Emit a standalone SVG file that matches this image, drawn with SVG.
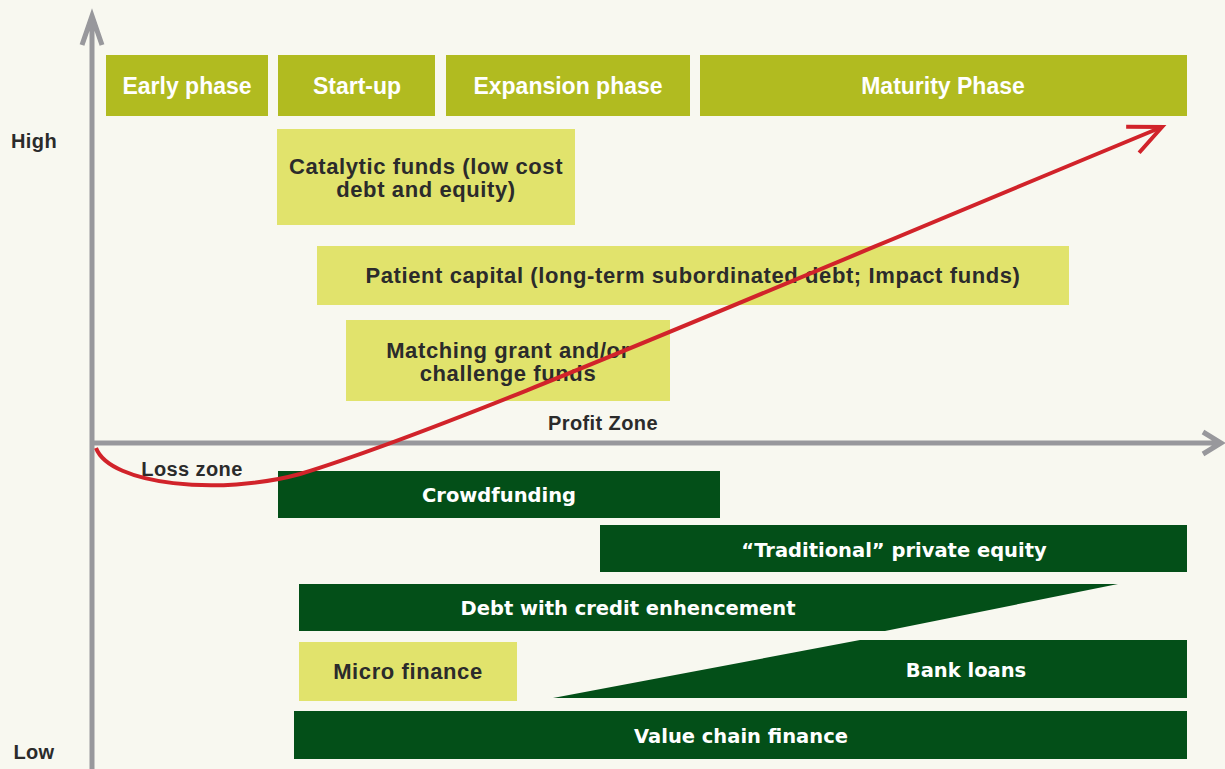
<svg xmlns="http://www.w3.org/2000/svg" width="1225" height="769" viewBox="0 0 1225 769">
<style>
text{font-family:"Liberation Sans",Arial,sans-serif;font-weight:bold;text-anchor:middle}
.ph{fill:#b1bb20}.lt{fill:#e1e36c}.dk{fill:#034f18}
.tp{fill:#ffffff;font-size:23px}
.tw{fill:#ffffff;font-family:"DejaVu Sans","Liberation Sans",sans-serif;font-size:19.5px}
.td{fill:#2b2b2b;font-size:22px;letter-spacing:0.6px}
.ax{fill:#2b2b2b;font-size:20px;letter-spacing:0.4px}
.axis{stroke:#98989c;stroke-width:5;fill:none}
</style>
<defs>
<marker id="red" markerUnits="userSpaceOnUse" markerWidth="50" markerHeight="50" refX="0" refY="0" viewBox="-40 -25 50 50" orient="auto" overflow="visible">
<path d="M-33,-14 L0,0 L-31,15" fill="none" stroke="#d1232a" stroke-width="4"/>
</marker>
</defs>
<rect width="1225" height="769" fill="#f8f8f0"/>
<g id="axes">
<path class="axis" d="M92,769 V16 M82,45 L92,16 L102,45"/>
<path class="axis" d="M92,443 H1220 M1203,432 L1221,443 L1203,454"/>
<text class="ax" x="34" y="148">High</text>
<text class="ax" x="34" y="759">Low</text>
<text class="ax" x="603" y="430">Profit Zone</text>
<text class="ax" x="192" y="476">Loss zone</text>
</g>
<g id="early"><rect class="ph" x="106" y="55" width="162" height="61"/><text class="tp" x="187" y="94">Early phase</text></g>
<g id="startup"><rect class="ph" x="278" y="55" width="157" height="61"/><text class="tp" x="357" y="94">Start-up</text></g>
<g id="expansion"><rect class="ph" x="446" y="55" width="244" height="61"/><text class="tp" x="568" y="94">Expansion phase</text></g>
<g id="maturity"><rect class="ph" x="700" y="55" width="487" height="61"/><text class="tp" x="943" y="94">Maturity Phase</text></g>
<g id="catalytic"><rect class="lt" x="277" y="129" width="298" height="96"/><text class="td" x="426" y="174">Catalytic funds (low cost</text><text class="td" x="426" y="197">debt and equity)</text></g>
<g id="patient"><rect class="lt" x="317" y="246" width="752" height="59"/><text class="td" x="693" y="283">Patient capital (long-term subordinated debt; Impact funds)</text></g>
<g id="matching"><rect class="lt" x="346" y="320" width="324" height="81"/><text class="td" x="508" y="358">Matching grant and/or</text><text class="td" x="508" y="381">challenge funds</text></g>
<g id="crowdfunding"><rect class="dk" x="278" y="471" width="442" height="47"/><text class="tw" x="499" y="502">Crowdfunding</text></g>
<g id="privateequity"><rect class="dk" x="600" y="525" width="587" height="47"/><text class="tw" x="894" y="557">“Traditional” private equity</text></g>
<g id="debt"><polygon class="dk" points="299,584 1118,584 885,631 299,631"/><text class="tw" x="628" y="615">Debt with credit enhencement</text></g>
<g id="microfinance"><rect class="lt" x="299" y="642" width="218" height="59"/><text class="td" x="408" y="679">Micro finance</text></g>
<g id="bankloans"><polygon class="dk" points="553,698 860,640 1187,640 1187,698"/><text class="tw" x="966" y="677">Bank loans</text></g>
<g id="valuechain"><rect class="dk" x="294" y="711" width="893" height="48"/><text class="tw" x="741" y="743">Value chain finance</text></g>
<g id="connectors">
<path d="M96,448 C110,485 220,496 300,474 C450,428 720,310 1162,127" fill="none" stroke="#d1232a" stroke-width="4" marker-end="url(#red)"/>
</g>
</svg>
